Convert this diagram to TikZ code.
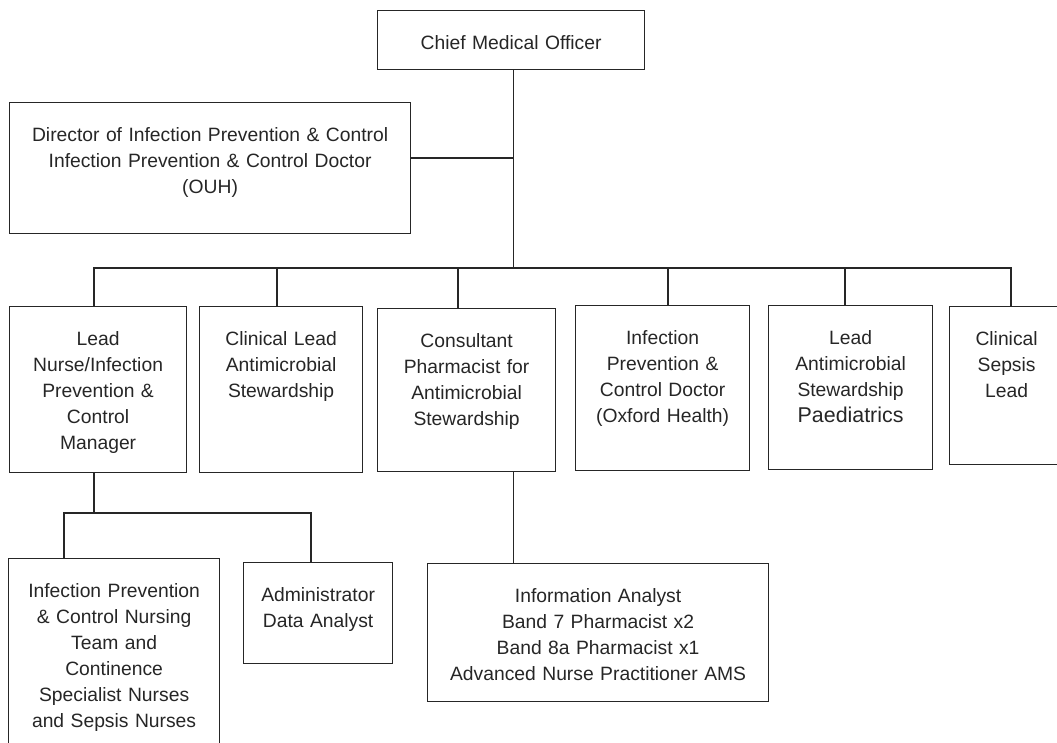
\documentclass[tikz,border=0pt]{standalone}
\usepackage{fontspec}
\setmainfont{Liberation Sans}

\begin{document}
\begin{tikzpicture}[x=1pt, y=-1pt,
	every node/.style={font=\fontsize{19.3}{26}\selectfont},
	post/.style 2 args={draw=black!85, line width=1.2pt, text=black!85, anchor=north west, align=center, inner sep=0pt, text height=39pt, text width=#1, text depth=#2},
	link/.style={draw=black!85, line width=1.2pt}]
	\useasboundingbox (0,0) rectangle (1057,742);
	% top level
	\node[post={267pt}{20pt}] (cmo) at (377,10) {Chief Medical Officer};
	\node[post={401pt}{92pt}] (director) at (9,102) {Director of Infection Prevention \& Control\\Infection Prevention \& Control Doctor\\(OUH)};
	% second row
	\node[post={177pt}{127pt}] (lead) at (9,306) {Lead\\Nurse/Infection\\Prevention \&\\Control\\Manager};
	\node[post={163pt}{127pt}] (clinlead) at (199,306) {Clinical Lead\\Antimicrobial\\Stewardship};
	\node[post={178pt}{124pt}] (consult) at (377,308) {Consultant\\Pharmacist for\\Antimicrobial\\Stewardship};
	\node[post={174pt}{126pt}] (ipcdoc) at (575,305) {Infection\\Prevention \&\\Control Doctor\\(Oxford Health)};
	\node[post={164pt}{125pt}] (paeds) at (768,305) {Lead\\Antimicrobial\\Stewardship\\{\fontsize{21.4}{28}\selectfont Paediatrics}};
	\node[post={114pt}{119pt}] (sepsis) at (949,306) {Clinical\\Sepsis\\Lead};
	% third row
	\node[post={211pt}{200pt}] (nursing) at (8,558) {Infection Prevention\\\& Control Nursing\\Team and\\Continence\\Specialist Nurses\\and Sepsis Nurses};
	\node[post={149pt}{62pt}] (admin) at (243,562) {Administrator\\Data Analyst};
	\node[post={341pt}{99pt}] (info) at (427,563) {Information Analyst\\Band 7 Pharmacist x2\\Band 8a Pharmacist x1\\Advanced Nurse Practitioner AMS};
	% connectors
	\coordinate (trunk) at (513.5,0);
	\draw[link] (cmo.south -| trunk) -- (trunk |- 0,268);
	\draw[link] (director.east |- 0,158) -- (trunk |- 0,158);
	\draw[link] (lead.north -| 94,0) -- (94,268) -- (1011,268) -- (sepsis.north -| 1011,0);
	\foreach \n/\x in {clinlead/277, consult/458, ipcdoc/668, paeds/845}
		{\draw[link] (\x,268) -- (\n.north -| \x,0);}
	\draw[link] (consult.south -| trunk) -- (info.north -| trunk);
	\draw[link] (lead.south -| 94,0) -- (94,513);
	\draw[link] (nursing.north -| 64,0) -- (64,513) -- (311,513) -- (admin.north -| 311,0);
\end{tikzpicture}
\end{document}
